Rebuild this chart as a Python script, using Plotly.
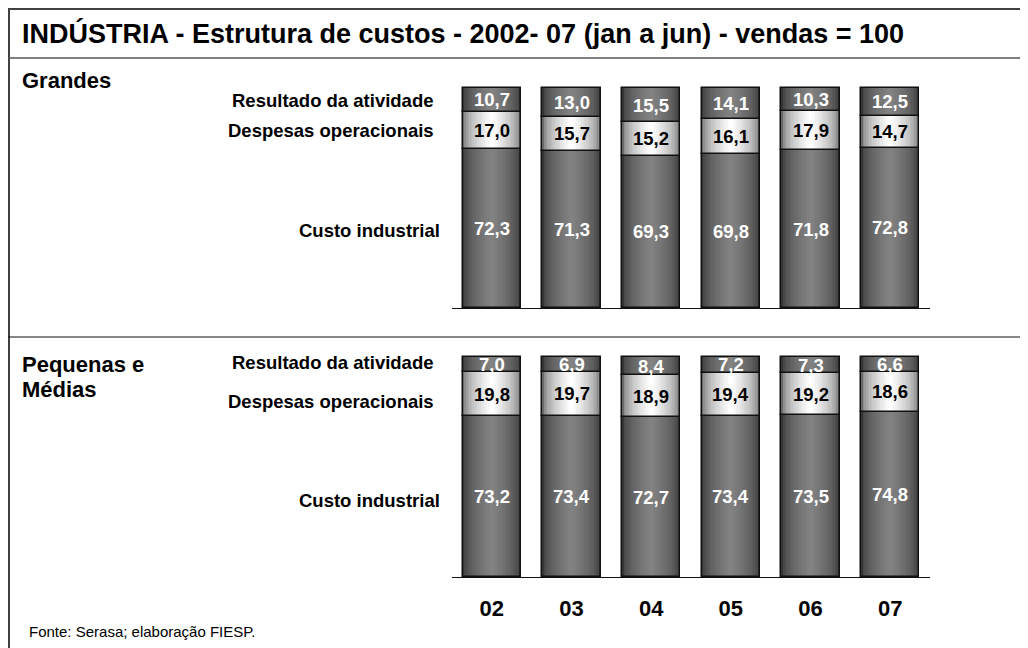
import plotly.graph_objects as go

# ---------------- data ----------------
years = ["02", "03", "04", "05", "06", "07"]
grandes_custo = [72.3, 71.3, 69.3, 69.8, 71.8, 72.8]
grandes_desp = [17.0, 15.7, 15.2, 16.1, 17.9, 14.7]
grandes_res = [10.7, 13.0, 15.5, 14.1, 10.3, 12.5]
pm_custo = [73.2, 73.4, 72.7, 73.4, 73.5, 74.8]
pm_desp = [19.8, 19.7, 18.9, 19.4, 19.2, 18.6]
pm_res = [7.0, 6.9, 8.4, 7.2, 7.3, 6.6]

segment_names = ["Custo industrial", "Despesas operacionais", "Resultado da atividade"]
title = "INDÚSTRIA - Estrutura de custos - 2002- 07 (jan a jun) - vendas = 100"
panel_names = ["Grandes", "Pequenas e", "Médias"]
source = "Fonte: Serasa; elaboração FIESP."

# ---------------- layout helpers ----------------
PAGE_OFF = 8            # default body margin of the html page
W_PX, H_PX = 1020, 640
FONT = "Liberation Sans, Arial, sans-serif"


def px(x):
    return (x - PAGE_OFF) / W_PX


def py(y):
    return 1 - (y - PAGE_OFF) / H_PX


def hex2rgb(h):
    h = h.lstrip("#")
    return tuple(int(h[i:i + 2], 16) for i in (0, 2, 4))


def mix(c1, c2, t):
    a, b = hex2rgb(c1), hex2rgb(c2)
    return "rgb(%d,%d,%d)" % tuple(round(a[i] + (b[i] - a[i]) * t) for i in range(3))


def fmt(v):
    return f"{v:.1f}".replace(".", ",")


BAR_W = 0.73
N_STEPS = 18
# (edge colour, centre colour, label colour)
seg_style = [
    ("#353535", "#828282", "white"),
    ("#6a6a6a", "#ffffff", "black"),
    ("#353535", "#828282", "white"),
]

fig = go.Figure()
annotations = []

panels = [
    ("x", "y", [grandes_custo, grandes_desp, grandes_res]),
    ("x2", "y2", [pm_custo, pm_desp, pm_res]),
]

for xa, ya, segs in panels:
    base = [0.0] * len(years)
    for si, vals in enumerate(segs):
        edge, centre, lcol = seg_style[si]
        for k in range(N_STEPS):
            t = (k / (N_STEPS - 1)) ** 0.5
            fig.add_trace(go.Bar(
                x=years, y=vals, base=base,
                width=BAR_W * (1 - k / N_STEPS),
                marker=dict(color=mix(edge, centre, t), line=dict(width=0)),
                xaxis=xa, yaxis=ya, showlegend=False, hoverinfo="skip",
            ))
        fig.add_trace(go.Bar(
            x=years, y=vals, base=base, width=BAR_W,
            marker=dict(color="rgba(0,0,0,0)", line=dict(color="#111111", width=1.5)),
            xaxis=xa, yaxis=ya, showlegend=False, name=segment_names[si],
        ))
        for xi, v in enumerate(vals):
            annotations.append(dict(
                x=xi, y=base[xi] + v / 2, xref=xa, yref=ya,
                text="<b>%s</b>" % fmt(v), showarrow=False,
                font=dict(family=FONT, size=18.5, color=lcol),
                xanchor="center", yanchor="middle",
            ))
        base = [b + v for b, v in zip(base, vals)]

# static texts
annotations.append(dict(x=px(20), y=py(33), xref="paper", yref="paper", text="<b>%s</b>" % title,
                        showarrow=False, xanchor="left", yanchor="middle",
                        font=dict(family=FONT, size=27, color="black")))
annotations.append(dict(x=px(20), y=py(80), xref="paper", yref="paper", text="<b>%s</b>" % panel_names[0],
                        showarrow=False, xanchor="left", yanchor="middle",
                        font=dict(family=FONT, size=22, color="black")))
annotations.append(dict(x=px(20), y=py(364), xref="paper", yref="paper", text="<b>%s</b>" % panel_names[1],
                        showarrow=False, xanchor="left", yanchor="middle",
                        font=dict(family=FONT, size=22, color="black")))
annotations.append(dict(x=px(20), y=py(389), xref="paper", yref="paper", text="<b>%s</b>" % panel_names[2],
                        showarrow=False, xanchor="left", yanchor="middle",
                        font=dict(family=FONT, size=22, color="black")))
label_pos = [
    [(442, 230), (436, 130), (436, 100)],
    [(442, 500), (436, 401), (436, 362)],
]
for pos in label_pos:
    for si, (lx, ly) in enumerate(pos):
        annotations.append(dict(x=px(lx), y=py(ly), xref="paper", yref="paper",
                                text="<b>%s</b>" % segment_names[si], showarrow=False,
                                xanchor="right", yanchor="middle",
                                font=dict(family=FONT, size=18.5, color="black")))
annotations.append(dict(x=px(27), y=py(631), xref="paper", yref="paper", text=source,
                        showarrow=False, xanchor="left", yanchor="middle",
                        font=dict(family=FONT, size=15, color="black")))

# frame & separators
shapes = [
    dict(type="line", xref="paper", yref="paper", x0=px(9), x1=px(9), y0=py(8), y1=py(660),
         line=dict(color="#404040", width=2)),
    dict(type="line", xref="paper", yref="paper", x0=px(8), x1=px(1040), y0=py(9), y1=py(9),
         line=dict(color="#404040", width=2)),
    dict(type="line", xref="paper", yref="paper", x0=px(8), x1=px(1040), y0=py(58), y1=py(58),
         line=dict(color="#555555", width=1.5)),
    dict(type="line", xref="paper", yref="paper", x0=px(8), x1=px(1040), y0=py(337), y1=py(337),
         line=dict(color="#111111", width=1.2)),
]

X_DOM = [px(452), px(930)]
Y_TOP = 105
SCALE = 2.2  # px per unit

fig.update_layout(
    width=W_PX, height=H_PX,
    margin=dict(l=0, r=0, t=0, b=0),
    paper_bgcolor="white", plot_bgcolor="rgba(0,0,0,0)",
    barmode="overlay", bargap=0,
    annotations=annotations, shapes=shapes,
    font=dict(family=FONT),
    xaxis=dict(domain=X_DOM, anchor="y", type="category", categoryorder="array", categoryarray=years,
               range=[-0.5, 5.5], showline=True, linecolor="#111111", linewidth=1.2,
               showticklabels=False, showgrid=False, zeroline=False, fixedrange=True),
    yaxis=dict(domain=[py(308), py(308 - Y_TOP * SCALE)], anchor="x", range=[0, Y_TOP],
               visible=False, fixedrange=True),
    xaxis2=dict(domain=X_DOM, anchor="y2", type="category", categoryorder="array", categoryarray=years,
                range=[-0.5, 5.5], showline=True, linecolor="#111111", linewidth=1.2,
                tickvals=years, ticktext=["<b>%s</b>" % y for y in years],
                ticks="outside", ticklen=11, tickcolor="rgba(0,0,0,0)",
                tickfont=dict(family=FONT, size=22, color="black"),
                showgrid=False, zeroline=False, fixedrange=True),
    yaxis2=dict(domain=[py(577), py(577 - Y_TOP * SCALE)], anchor="x2", range=[0, Y_TOP],
                visible=False, fixedrange=True),
)

fig.write_html("out.html")
